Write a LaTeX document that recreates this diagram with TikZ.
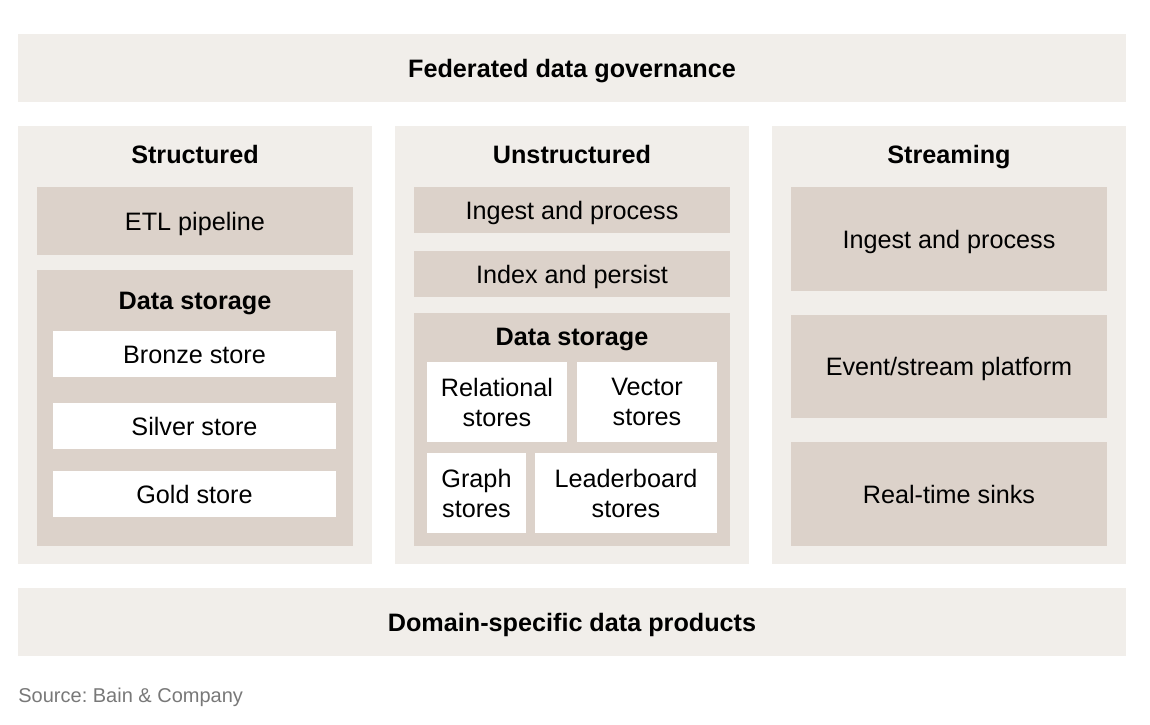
\documentclass[tikz,border=0pt]{standalone}
\usepackage{fontspec}
\setmainfont{Liberation Sans}
\usepackage{tikz}
\usepackage{xcolor}
\frenchspacing

\definecolor{bainlight}{RGB}{241,238,234}
\definecolor{baintan}{RGB}{220,210,202}
\definecolor{baingray}{RGB}{120,120,120}

\begin{document}
\begin{tikzpicture}[x=0.5pt,y=0.5pt,yscale=-1,xscale=1,
  panel/.style={fill=bainlight},
  tile/.style={fill=baintan},
  lbl/.style={font=\fontsize{12.6}{15}\selectfont, text height=9pt, text depth=0pt, inner sep=0pt},
  head/.style={lbl, font=\fontsize{12.6}{15}\selectfont\bfseries},
  twoline/.style={font=\fontsize{12.6}{15}\selectfont, align=center, inner sep=0pt},
  boxnode/.style={tile, inner sep=0pt, minimum width=158pt},
  storenode/.style={fill=white, inner sep=0pt}]
\useasboundingbox (0,0) rectangle (1150,724);

%Shape: Rectangle (governance band)
\node[panel, head, minimum width=554pt, minimum height=34pt] (gov) at (572,68) {Federated data governance};

%Shape: Rectangle (columns)
\path[panel] (18,126) rectangle (372,564);
\path[panel] (395,126) rectangle (749,564);
\path[panel] (772,126) rectangle (1126,564);

% Text Node
\node[head] (structured) at (195,154) {Structured};
% Text Node
\node[head] (unstructured) at (572,154) {Unstructured};
% Text Node
\node[head] (streaming) at (949,154) {Streaming};

%Shape: Rectangle (structured column)
\node[boxnode, lbl, minimum height=34pt] (etl) at (195,221) {ETL pipeline};
\path[tile] (37,270) rectangle (353,546);
\node[head] (storeA) at (195,300) {Data storage};
\node[storenode, lbl, minimum width=141.5pt, minimum height=23pt] (bronze) at (194.5,354) {Bronze store};
\node[storenode, lbl, minimum width=141.5pt, minimum height=23pt] (silver) at (194.5,426) {Silver store};
\node[storenode, lbl, minimum width=141.5pt, minimum height=23pt] (gold) at (194.5,494) {Gold store};

%Shape: Rectangle (unstructured column)
\node[boxnode, lbl, minimum height=23pt] (ingestU) at (572,210) {Ingest and process};
\node[boxnode, lbl, minimum height=23pt] (index) at (572,274) {Index and persist};
\path[tile] (414,313) rectangle (730,546);
\node[head] (storeB) at (572,336) {Data storage};
\node[storenode, twoline, minimum width=70pt, minimum height=40pt] (relational) at (497,402) {Relational\\stores};
\node[storenode, twoline, minimum width=70pt, minimum height=40pt] (vector) at (647,402) {Vector\\stores};
\node[storenode, twoline, minimum width=49.5pt, minimum height=40pt] (graph) at (476.5,493) {Graph\\stores};
\node[storenode, twoline, minimum width=91pt, minimum height=40pt] (leader) at (626,493) {Leaderboard\\stores};

%Shape: Rectangle (streaming column)
\node[boxnode, lbl, minimum height=52pt] (ingestS) at (949,239) {Ingest and process};
\node[boxnode, lbl, minimum height=51.5pt] (event) at (949,366.5) {Event/stream platform};
\node[boxnode, lbl, minimum height=52pt] (sinks) at (949,494) {Real-time sinks};

%Shape: Rectangle (products band)
\node[panel, head, minimum width=554pt, minimum height=34pt] (products) at (572,622) {Domain-specific data products};

% Text Node
\node[anchor=base west, inner sep=0pt, font=\fontsize{10}{12}\selectfont, text=baingray] (source) at (18,702) {Source: Bain \& Company};

\end{tikzpicture}
\end{document}
